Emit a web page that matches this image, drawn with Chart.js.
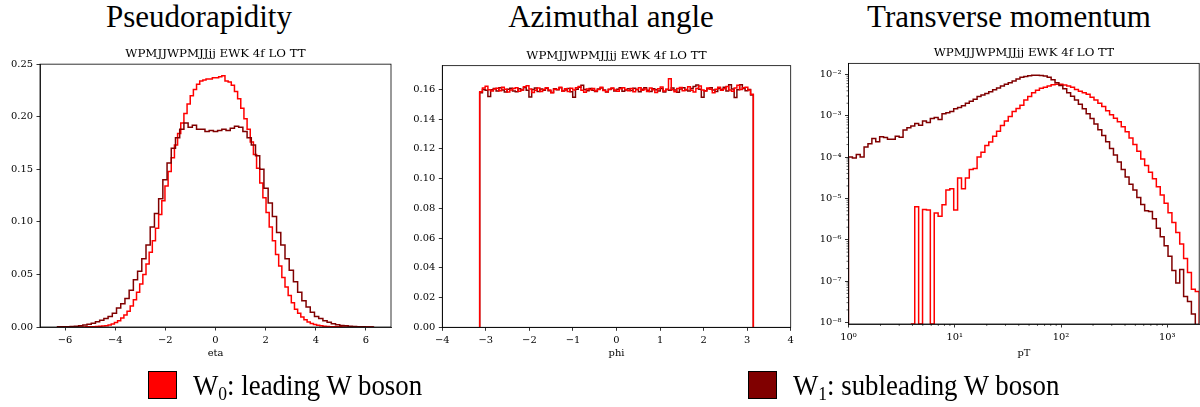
<!DOCTYPE html>
<html>
<head>
<meta charset="utf-8">
<script src="https://cdn.jsdelivr.net/npm/chart.js@4.4.1/dist/chart.umd.min.js"></script>
<style>
  html, body { margin: 0; padding: 0; background: #fff; width: 1200px; height: 407px; overflow: hidden; }
  canvas { position: absolute; top: 0; }
  .big { position: absolute; top: 1px; font-family: "Liberation Serif", serif; font-size: 31px; color: #000; white-space: nowrap; transform: translateX(-50%); line-height: 31px; }
  .sw { position: absolute; top: 371px; width: 29px; height: 28px; box-sizing: border-box; border: 1px solid #000; }
  .lg { position: absolute; top: 369px; font-family: "Liberation Serif", serif; font-size: 29px; line-height: 32px; color: #000; white-space: nowrap; transform: scaleX(0.925); transform-origin: 0 0; }
  .lg sub { font-size: 19px; vertical-align: -5px; line-height: 0; }
</style>
</head>
<body>
<div class="big" style="left:199px">Pseudorapidity</div>
<div class="big" style="left:611px">Azimuthal angle</div>
<div class="big" style="left:1009px">Transverse momentum</div>
<canvas id="c1" width="400" height="380" style="left:0px"></canvas>
<canvas id="c2" width="400" height="380" style="left:400px"></canvas>
<canvas id="c3" width="400" height="380" style="left:800px"></canvas>
<div class="sw" style="left:148px;background:#ff0000"></div>
<div class="lg" id="lg0" style="left:193px">W<sub>0</sub>: leading W boson</div>
<div class="sw" style="left:748px;background:#800000"></div>
<div class="lg" id="lg1" style="left:793px">W<sub>1</sub>: subleading W boson</div>
<script>
// ---------------- data ----------------
const seriesNames = ['W0: leading W boson', 'W1: subleading W boson'];
const seriesColors = ['#ff0000', '#800000'];
const subTitle = 'WPMJJWPMJJjj EWK 4f LO TT';

// Pseudorapidity (eta): normalised step histograms
const etaRangeW0 = [-6.3, 6.3];
const etaW0 = [
  0, 0, 0.00001, 0.00001, 0.00002, 0.00003, 0.00005, 0.00008, 0.0001, 0.00015,
  0.0002, 0.0003, 0.0004, 0.0006, 0.0009, 0.0013, 0.0019, 0.0029, 0.0043, 0.0060,
  0.0085, 0.0115, 0.0150, 0.0200, 0.0260, 0.0330, 0.0410, 0.0500, 0.0600, 0.0710,
  0.0820, 0.0940, 0.1070, 0.1200, 0.1340, 0.1480, 0.1610, 0.1730, 0.1840, 0.1940,
  0.2030, 0.2120, 0.2200, 0.2260, 0.2310, 0.2340, 0.2350, 0.2360, 0.2360, 0.2370,
  0.2370, 0.2380, 0.2390, 0.2340, 0.2330, 0.2300, 0.2240, 0.2170, 0.2080, 0.1980,
  0.1880, 0.1760, 0.1640, 0.1510, 0.1370, 0.1230, 0.1090, 0.0950, 0.0820, 0.0690,
  0.0580, 0.0470, 0.0380, 0.0300, 0.0230, 0.0170, 0.0130, 0.0095, 0.0068, 0.0048,
  0.0034, 0.0024, 0.0016, 0.0011, 0.0008, 0.0005, 0.00035, 0.00025, 0.00017, 0.00012,
  0.00008, 0.00005, 0.00004, 0.00003, 0.00002, 0.00001, 0.00001, 0, 0, 0
];
const etaRangeW1 = [-6.3, 6.3];
const etaW1 = [
  0.0002, 0.0002, 0.0003, 0.0005, 0.0008, 0.0012, 0.0018, 0.0025, 0.0035, 0.0050,
  0.0065, 0.0080, 0.0100, 0.0130, 0.0180, 0.0220, 0.0270, 0.0350, 0.0450, 0.0530,
  0.0650, 0.0780, 0.0950, 0.1080, 0.1220, 0.1400, 0.1560, 0.1700, 0.1800, 0.1880,
  0.1940, 0.1900, 0.1920, 0.1880, 0.1880, 0.1860, 0.1870, 0.1860, 0.1870, 0.1880,
  0.1870, 0.1890, 0.1910, 0.1900, 0.1860, 0.1800, 0.1730, 0.1630, 0.1500, 0.1320,
  0.1180, 0.1050, 0.0900, 0.0780, 0.0650, 0.0540, 0.0430, 0.0330, 0.0250, 0.0190,
  0.0140, 0.0100, 0.0080, 0.0060, 0.0045, 0.0030, 0.0022, 0.0015, 0.0011, 0.0008,
  0.0005, 0.0003, 0.0002, 0.0001, 0.0001
];

// Azimuthal angle (phi)
const phiRange = [-Math.PI, Math.PI];
const phiW0 = [
  0.1585,0.1610,0.1622,0.1598,0.1590,0.1603,0.1608,0.1592,0.1614,0.1601,
  0.1583,0.1597,0.1606,0.1611,0.1588,0.1596,0.1618,0.1625,0.1603,0.1580,
  0.1594,0.1609,0.1587,0.1600,0.1612,0.1596,0.1578,0.1602,0.1599,0.1615,
  0.1590,0.1604,0.1586,0.1608,0.1597,0.1612,0.1620,0.1595,0.1581,0.1603,
  0.1598,0.1607,0.1589,0.1600,0.1614,0.1593,0.1585,0.1601,0.1610,0.1596,
  0.1588,0.1605,0.1612,0.1599,0.1592,0.1606,0.1584,0.1600,0.1611,0.1594,
  0.1603,0.1587,0.1609,0.1598,0.1579,0.1604,0.1616,0.1590,0.1601,0.1672,
  0.1598,0.1585,0.1607,0.1613,0.1592,0.1600,0.1618,0.1595,0.1583,0.1606,
  0.1624,0.1597,0.1589,0.1610,0.1601,0.1578,0.1602,0.1615,0.1594,0.1605,
  0.1620,0.1596,0.1588,0.1609,0.1628,0.1600,0.1611,0.1615,0.1597,0.1568
];
const phiW1 = [
  0.1578,0.1600,0.1594,0.1552,0.1598,0.1606,0.1589,0.1612,0.1596,0.1583,
  0.1601,0.1608,0.1590,0.1585,0.1604,0.1597,0.1613,0.1594,0.1550,0.1599,
  0.1610,0.1587,0.1603,0.1595,0.1608,0.1592,0.1580,0.1605,0.1598,0.1611,
  0.1589,0.1596,0.1607,0.1584,0.1548,0.1602,0.1615,0.1628,0.1600,0.1591,
  0.1606,0.1594,0.1586,0.1603,0.1610,0.1597,0.1582,0.1599,0.1607,0.1590,
  0.1601,0.1612,0.1588,0.1596,0.1604,0.1593,0.1608,0.1599,0.1585,0.1602,
  0.1611,0.1594,0.1587,0.1605,0.1598,0.1590,0.1606,0.1583,0.1600,0.1594,
  0.1609,0.1596,0.1581,0.1603,0.1612,0.1597,0.1589,0.1607,0.1620,0.1630,
  0.1601,0.1547,0.1592,0.1604,0.1611,0.1596,0.1586,0.1608,0.1599,0.1615,
  0.1590,0.1632,0.1603,0.1545,0.1598,0.1631,0.1606,0.1592,0.1600,0.1563
];

// Transverse momentum (pT), log-spaced bins from 10^0 to 10^3.3
const ptLogRange = [0, 3.3];
const ptW0 = [
  0, 0, 0, 0, 0, 0, 0, 0, 0, 0,
  0, 0, 0, 0, 0, 0, 0, 6.3e-6, 0, 5.4e-6,
  5.2e-6, 0, 4.4e-6, 3.7e-6, 7.0e-6, 1.6e-5, 1.7e-5, 5.2e-6, 3.1e-5, 1.7e-5,
  3.1e-5, 5.0e-5, 5.3e-5, 1.0e-4, 1.3e-4, 1.9e-4, 2.3e-4, 3.2e-4, 4.2e-4, 5.8e-4,
  7.4e-4, 9.5e-4, 1.26e-3, 1.5e-3, 1.8e-3, 2.4e-3, 2.9e-3, 3.6e-3, 4.1e-3, 4.6e-3,
  4.9e-3, 5.2e-3, 5.6e-3, 5.75e-3, 5.75e-3, 5.5e-3, 5.25e-3, 4.9e-3, 4.3e-3, 3.9e-3,
  3.6e-3, 3.3e-3, 2.8e-3, 2.4e-3, 2.0e-3, 1.66e-3, 1.32e-3, 1.05e-3, 8.7e-4, 7.1e-4,
  5.4e-4, 4.1e-4, 2.9e-4, 2.0e-4, 1.38e-4, 8.9e-5, 6.2e-5, 4.3e-5, 3.0e-5, 1.9e-5,
  1.2e-5, 7.6e-6, 4.5e-6, 2.6e-6, 1.5e-6, 7.9e-7, 3.5e-7, 1.6e-7, 6.3e-8, 5.6e-8
];
const ptW1 = [
  1.0e-4, 9.5e-5, 1.15e-4, 1.0e-4, 1.75e-4, 2.1e-4, 2.8e-4, 2.35e-4, 3.1e-4, 2.95e-4,
  2.7e-4, 2.7e-4, 3.2e-4, 3.0e-4, 4.5e-4, 5.1e-4, 5.6e-4, 6.5e-4, 5.9e-4, 7.4e-4,
  6.8e-4, 8.5e-4, 9.1e-4, 8.1e-4, 1.12e-3, 1.17e-3, 1.26e-3, 1.48e-3, 1.58e-3, 1.74e-3,
  2.0e-3, 2.24e-3, 2.5e-3, 2.9e-3, 3.16e-3, 3.45e-3, 3.8e-3, 4.25e-3, 4.7e-3, 5.25e-3,
  5.75e-3, 6.3e-3, 6.9e-3, 7.7e-3, 8.5e-3, 8.9e-3, 9.3e-3, 9.5e-3, 9.5e-3, 9.4e-3,
  9.1e-3, 8.5e-3, 7.4e-3, 6.3e-3, 5.4e-3, 4.5e-3, 3.6e-3, 2.95e-3, 2.4e-3, 1.9e-3,
  1.48e-3, 1.12e-3, 8.5e-4, 6.3e-4, 4.6e-4, 3.3e-4, 2.35e-4, 1.6e-4, 1.12e-4, 7.6e-5,
  5.0e-5, 3.3e-5, 2.2e-5, 1.6e-5, 1.05e-5, 7.1e-6, 5.0e-6, 4.8e-6, 3.2e-6, 1.9e-6,
  1.17e-6, 7.1e-7, 4.0e-7, 1.8e-7, 8.9e-8, 1.9e-7, 4.2e-8, 3.2e-8, 1.6e-8, 0
];

// axis ticks / labels
const etaXTicks = [-6, -4, -2, 0, 2, 4, 6];
const etaYTicks = [0, 0.05, 0.10, 0.15, 0.20, 0.25];
const phiXTicks = [-4, -3, -2, -1, 0, 1, 2, 3, 4];
const phiYTicks = [0, 0.02, 0.04, 0.06, 0.08, 0.10, 0.12, 0.14, 0.16];
const ptXTicks = [1, 10, 100, 1000];
const ptXTickLabels = ['10\u2070', '10\u00b9', '10\u00b2', '10\u00b3'];
const ptYTicks = [1e-8, 1e-7, 1e-6, 1e-5, 1e-4, 1e-3, 1e-2];
const ptYTickLabels = ['10\u207b\u2078', '10\u207b\u2077', '10\u207b\u2076', '10\u207b\u2075', '10\u207b\u2074', '10\u207b\u00b3', '10\u207b\u00b2'];
const axisTitles = ['eta', 'phi', 'pT'];

// ---------------- helpers ----------------
function linEdges(range, n) {
  const e = [];
  for (let i = 0; i <= n; i++) e.push(range[0] + (range[1] - range[0]) * i / n);
  return e;
}
function logEdges(lr, n) {
  const e = [];
  for (let i = 0; i <= n; i++) e.push(Math.pow(10, lr[0] + (lr[1] - lr[0]) * i / n));
  return e;
}
function stepPoints(edges, vals, floor) {
  const f = v => (v > 0 ? v : floor);
  const pts = [{x: edges[0], y: floor}];
  for (let i = 0; i < vals.length; i++) pts.push({x: edges[i], y: f(vals[i])});
  const last = edges[edges.length - 1];
  pts.push({x: last, y: f(vals[vals.length - 1])});
  pts.push({x: last, y: floor});
  return pts;
}
const minus = s => String(s).replace('-', '\u2212');
const PT_YMIN = Math.pow(10, -8.04);
const PT_YMAX = Math.pow(10, -1.734);

Chart.defaults.font.family = '"DejaVu Serif", serif';
Chart.defaults.color = '#000';

const framePlugin = {
  id: 'frame',
  afterDatasetsDraw(chart, args, opts) {
    const {ctx, chartArea: a} = chart;
    ctx.save();
    ctx.strokeStyle = '#000';
    ctx.lineWidth = 0.8;
    ctx.strokeRect(a.left, a.top, a.right - a.left, a.bottom - a.top);
    if (opts.logMinor) {
      ctx.lineWidth = 0.6;
      const xs = chart.scales.x, ys = chart.scales.y;
      ctx.beginPath();
      for (let e = 0; e <= 3; e++) for (let m = 2; m <= 9; m++) {
        const v = m * Math.pow(10, e);
        if (v > xs.max) continue;
        const px = xs.getPixelForValue(v);
        ctx.moveTo(px, a.bottom); ctx.lineTo(px, a.bottom + 2);
      }
      for (let e = -9; e <= -2; e++) for (let m = 2; m <= 9; m++) {
        const v = m * Math.pow(10, e);
        if (v < ys.min || v > ys.max) continue;
        const py = ys.getPixelForValue(v);
        ctx.moveTo(a.left, py); ctx.lineTo(a.left - 2, py);
      }
      ctx.stroke();
    }
    ctx.restore();
  }
};

function makeChart(id, cfg) {
  const tickFont = {family: '"DejaVu Serif", serif', size: 9.9};
  const grid = {display: true, drawOnChartArea: false, drawTicks: true, tickLength: 3.5, tickColor: '#000', tickWidth: 0.8};
  return new Chart(document.getElementById(id), {
    type: 'line',
    data: {datasets: cfg.datasets},
    options: {
      responsive: false,
      animation: false,
      events: [],
      layout: {padding: {left: 0, right: cfg.padRight, top: 0, bottom: 21}},
      plugins: {
        legend: {display: false},
        tooltip: {enabled: false},
        title: {display: true, text: subTitle, fullSize: false, color: '#000',
                font: {family: '"DejaVu Serif", serif', size: 11.8, weight: 'normal', lineHeight: 1.2},
                padding: {top: cfg.titleTop, bottom: 3}},
        frame: {logMinor: cfg.log}
      },
      elements: {point: {radius: 0}, line: {tension: 0, borderWidth: 1.5, borderCapStyle: 'butt', borderJoinStyle: 'miter'}},
      scales: {
        x: {
          type: cfg.log ? 'logarithmic' : 'linear',
          min: cfg.xMin, max: cfg.xMax, bounds: 'data',
          grid: grid,
          border: {display: true, color: '#000', width: 0.8},
          ticks: {autoSkip: false, maxRotation: 0, padding: 3.5, font: tickFont, color: '#000',
                  callback: cfg.xLabel},
          afterBuildTicks: s => { s.ticks = cfg.xTicks.map(v => ({value: v})); },
          afterFit: s => { s.height = cfg.xHeight; },
          title: {display: true, text: cfg.xTitle, color: '#000', padding: 0,
                  font: {family: '"DejaVu Serif", serif', size: 9.9, lineHeight: 1.2}}
        },
        y: {
          type: cfg.log ? 'logarithmic' : 'linear',
          min: cfg.yMin, max: cfg.yMax, bounds: 'data',
          grid: grid,
          border: {display: true, color: '#000', width: 0.8},
          ticks: {autoSkip: false, padding: 3.5, font: tickFont, color: '#000',
                  callback: cfg.yLabel},
          afterBuildTicks: s => { s.ticks = cfg.yTicks.map(v => ({value: v})); },
          afterFit: s => { s.width = cfg.yWidth; }
        }
      }
    },
    plugins: [framePlugin]
  });
}

function ds(name, pts, color, floor) {
  const d = {label: name, data: pts, borderColor: color, backgroundColor: color, fill: false,
          stepped: true, pointRadius: 0, borderWidth: 1.5, clip: 0};
  if (floor !== undefined) {
    // empty bins on a log axis: drop to the bottom edge, but draw nothing along it
    d.segment = {borderColor: c => (c.p0.parsed.y <= floor && c.p1.parsed.y <= floor) ? 'rgba(0,0,0,0)' : undefined};
  }
  return d;
}

// Panel 1: eta
makeChart('c1', {
  datasets: [
    ds(seriesNames[1], stepPoints(linEdges(etaRangeW1, etaW1.length), etaW1, 0), seriesColors[1]),
    ds(seriesNames[0], stepPoints(linEdges(etaRangeW0, etaW0.length), etaW0, 0), seriesColors[0])
  ],
  log: false, xMin: -7, xMax: 7, yMin: 0, yMax: 0.25,
  xTicks: etaXTicks, yTicks: etaYTicks,
  xLabel: v => minus(v), yLabel: v => v.toFixed(2),
  yWidth: 40, padRight: 9, titleTop: 47, xHeight: 32, xTitle: axisTitles[0]
});

// Panel 2: phi
makeChart('c2', {
  datasets: [
    ds(seriesNames[0], stepPoints(linEdges(phiRange, phiW0.length), phiW0, 0), seriesColors[0]),
    ds(seriesNames[1], stepPoints(linEdges(phiRange, phiW1.length), phiW1, 0), seriesColors[1])
  ],
  log: false, xMin: -4, xMax: 4, yMin: 0, yMax: 0.176,
  xTicks: phiXTicks, yTicks: phiYTicks,
  xLabel: v => minus(v), yLabel: v => v.toFixed(2),
  yWidth: 42.3, padRight: 9.3, titleTop: 48.5, xHeight: 31.7, xTitle: axisTitles[1]
});

// Panel 3: pT
makeChart('c3', {
  datasets: [
    ds(seriesNames[1], stepPoints(logEdges(ptLogRange, ptW1.length), ptW1, PT_YMIN), seriesColors[1], PT_YMIN),
    ds(seriesNames[0], stepPoints(logEdges(ptLogRange, ptW0.length), ptW0, PT_YMIN), seriesColors[0], PT_YMIN)
  ],
  log: true, xMin: 1, xMax: Math.pow(10, 3.3), yMin: PT_YMIN, yMax: PT_YMAX,
  xTicks: ptXTicks, yTicks: ptYTicks,
  xLabel: v => ptXTickLabels[ptXTicks.indexOf(v)] || '',
  yLabel: v => { const i = ptYTicks.findIndex(t => Math.abs(Math.log10(t) - Math.log10(v)) < 1e-6); return i >= 0 ? ptYTickLabels[i] : ''; },
  yWidth: 48.5, padRight: 0.8, titleTop: 46.2, xHeight: 35, xTitle: axisTitles[2]
});
</script>
</body>
</html>
